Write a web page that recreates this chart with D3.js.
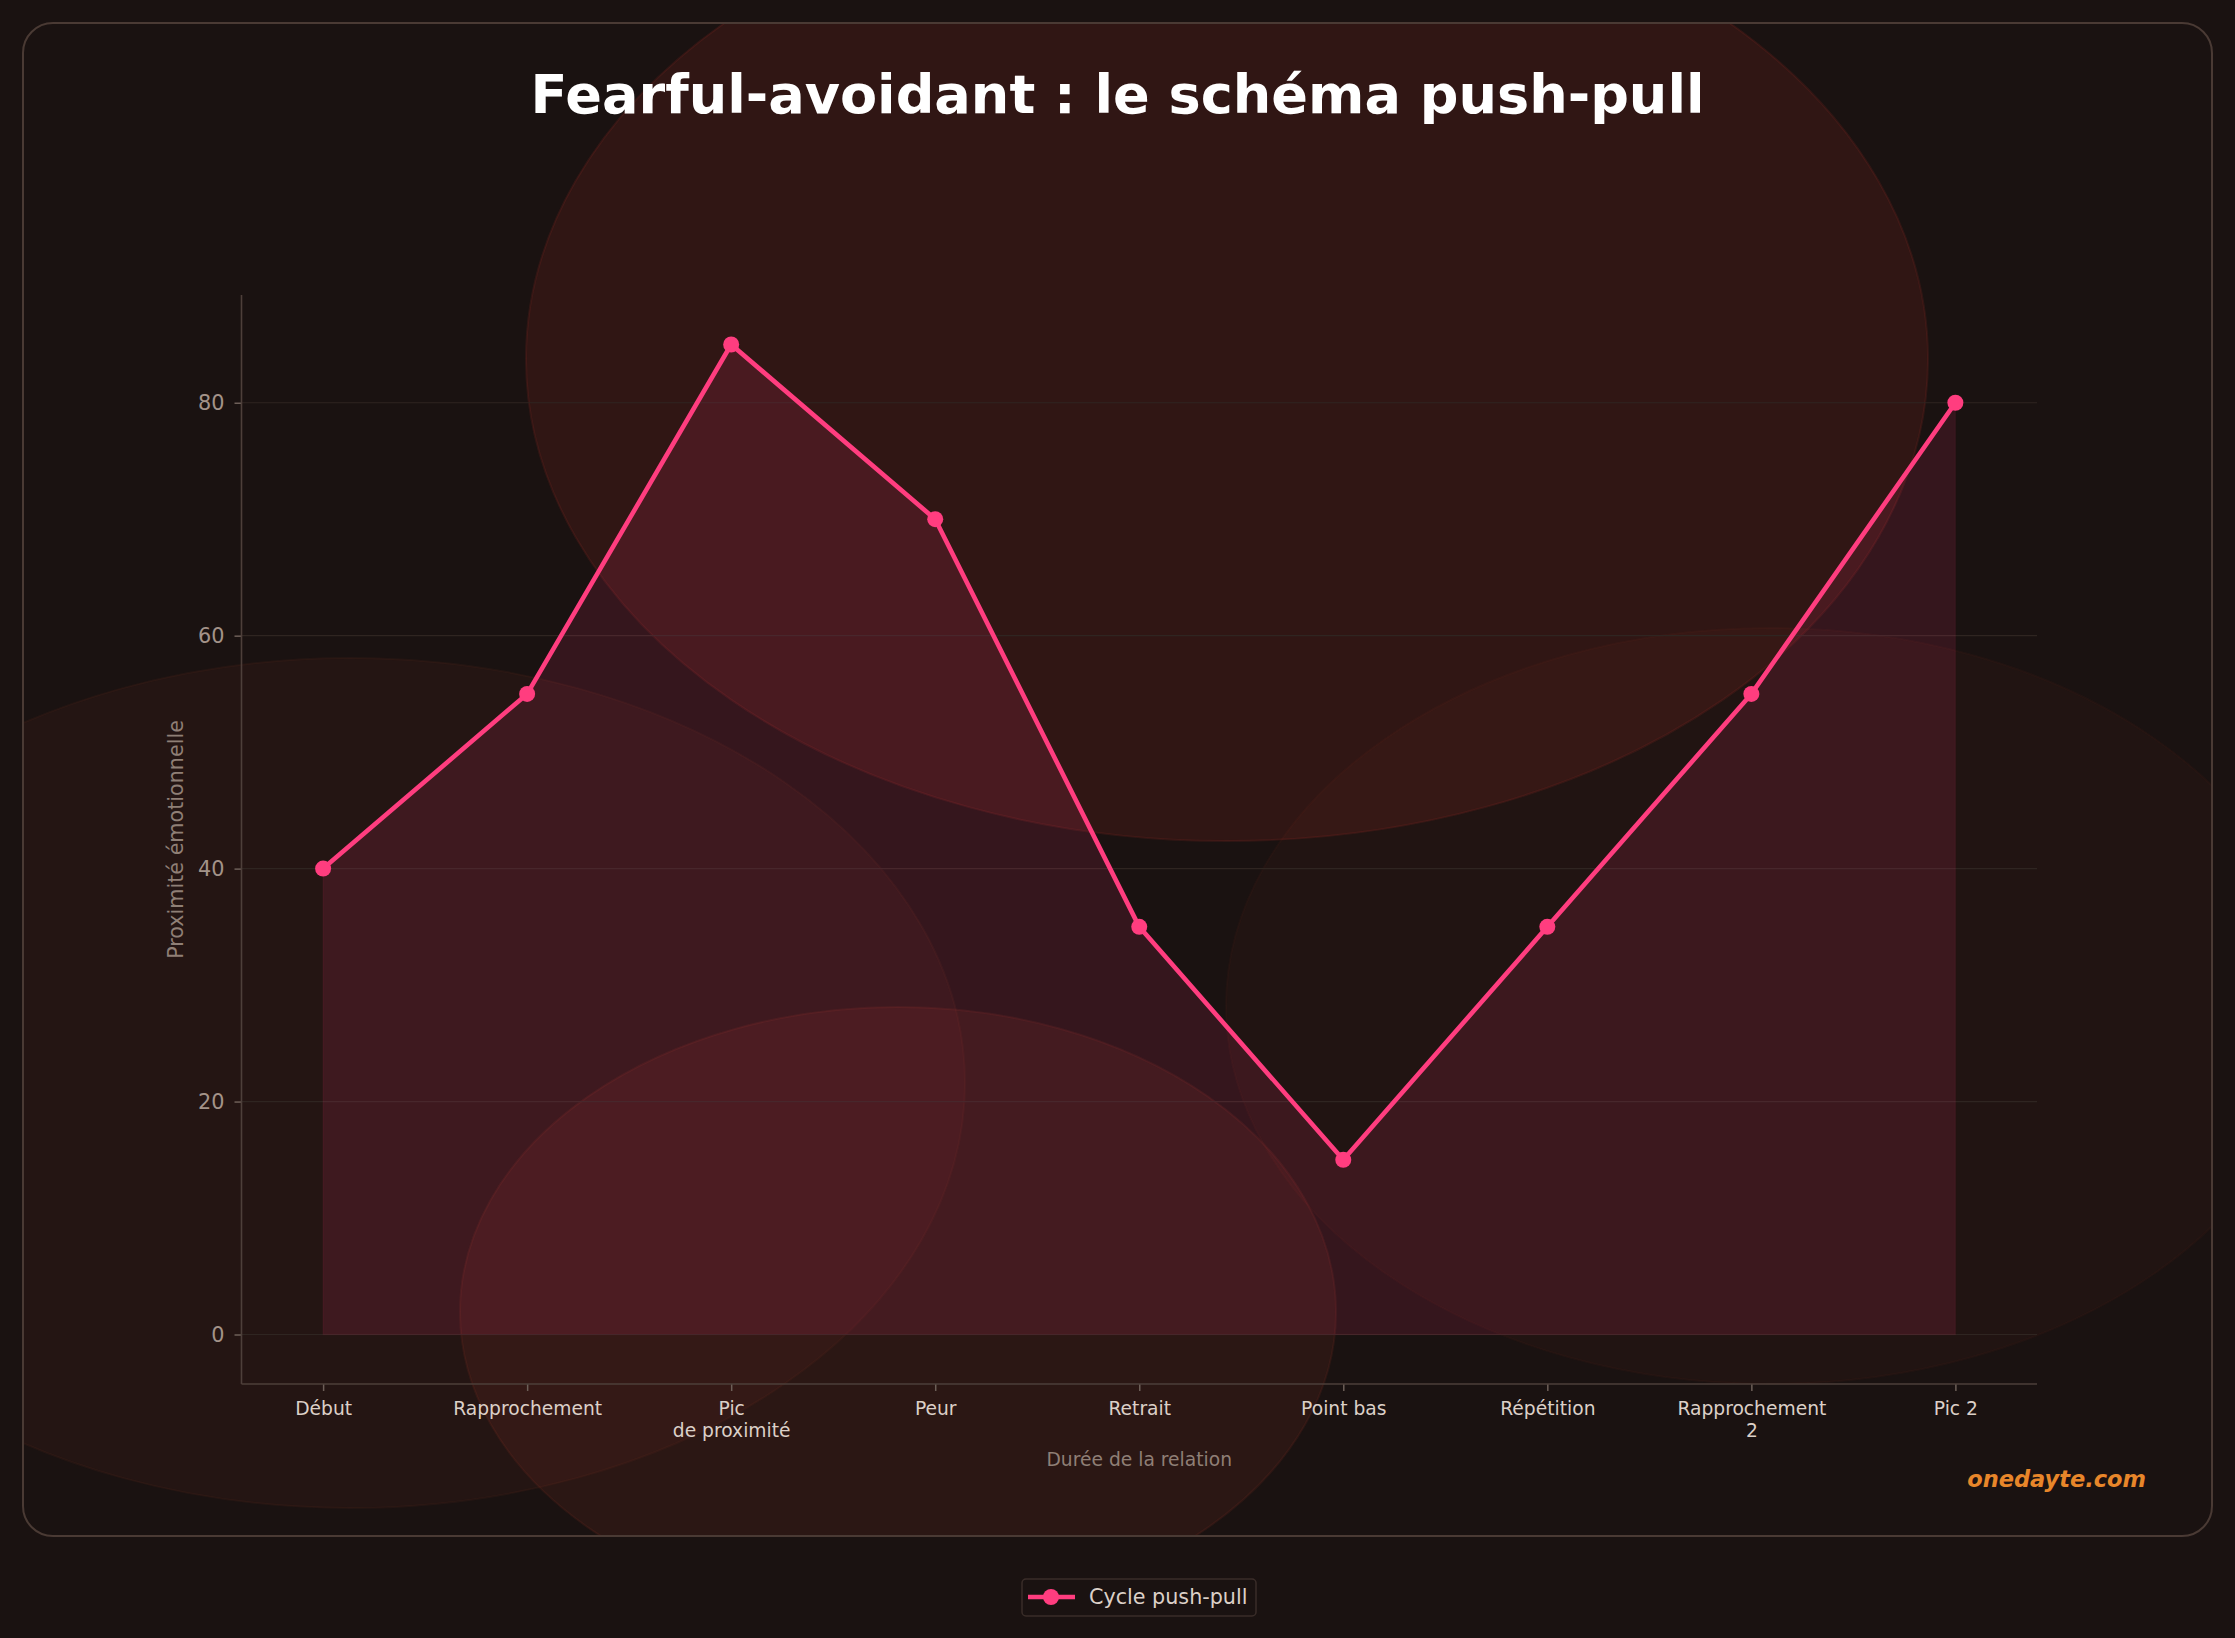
<!DOCTYPE html>
<html>
<head>
<meta charset="utf-8">
<script src="https://cdn.jsdelivr.net/npm/d3@7"></script>
<style>
  html, body { margin: 0; padding: 0; background: #1a1211; }
  svg { display: block; }
  text { font-family: "DejaVu Sans", sans-serif; }
</style>
</head>
<body>
<svg id="chart" width="2235" height="1638"></svg>
<script>
// ---------- data ----------
const categories = ["Début", "Rapprochement", "Pic\nde proximité", "Peur", "Retrait", "Point bas", "Répétition", "Rapprochement\n2", "Pic 2"];
const values = [40, 55, 85, 70, 35, 15, 35, 55, 80];
const yTicks = [0, 20, 40, 60, 80];
const seriesName = "Cycle push-pull";
const titleText = "Fearful-avoidant : le schéma push-pull";
const xLabelText = "Durée de la relation";
const yLabelText = "Proximité émotionnelle";
const watermarkText = "onedayte.com";

// ---------- decoration (background blobs, figure pixels) ----------
const blobs = [
  { cx: 1227, cy: 359, rx: 701, ry: 482, color: "#c8382e", alpha: 0.13 },
  { cx: 350, cy: 1083, rx: 615, ry: 425, color: "#c8553a", alpha: 0.06 },
  { cx: 898, cy: 1312, rx: 438, ry: 305, color: "#c8452e", alpha: 0.10 },
  { cx: 1770, cy: 1006, rx: 544, ry: 378, color: "#c8452e", alpha: 0.045 }
];

const W = 2235, H = 1638;
const svg = d3.select("#chart");
const bg = "#1a1211";
const pink = "#ff3d7f";

svg.append("rect").attr("width", W).attr("height", H).attr("fill", bg);

// card
const card = { x: 23, y: 23, w: 2189, h: 1513, r: 30 };
const defs = svg.append("defs");
defs.append("clipPath").attr("id", "cardClip")
  .append("rect").attr("x", card.x).attr("y", card.y).attr("width", card.w).attr("height", card.h).attr("rx", card.r);

svg.append("rect").attr("x", card.x).attr("y", card.y).attr("width", card.w).attr("height", card.h)
  .attr("rx", card.r).attr("fill", bg);

const blobG = svg.append("g").attr("clip-path", "url(#cardClip)");
blobG.selectAll("ellipse").data(blobs).join("ellipse")
  .attr("cx", d => d.cx).attr("cy", d => d.cy).attr("rx", d => d.rx).attr("ry", d => d.ry)
  .attr("fill", d => d.color).attr("fill-opacity", d => d.alpha)
  .attr("stroke", d => d.color).attr("stroke-opacity", d => d.alpha).attr("stroke-width", 2);

svg.append("rect").attr("x", card.x).attr("y", card.y).attr("width", card.w).attr("height", card.h)
  .attr("rx", card.r).attr("fill", "none").attr("stroke", "#4a3a34").attr("stroke-width", 2);

// ---------- scales ----------
const plot = { left: 241.5, right: 2037, top: 295, bottom: 1384 };
const n = values.length;
const xPad = (n - 1) * 0.05;
const x = d3.scaleLinear().domain([-xPad, n - 1 + xPad]).range([plot.left, plot.right]);
const yMax = d3.max(values), yPad = yMax * 0.05;
const y = d3.scaleLinear().domain([-yPad, yMax + yPad]).range([plot.bottom, plot.top]);

// grid
svg.append("g").selectAll("line").data(yTicks).join("line")
  .attr("x1", plot.left).attr("x2", plot.right)
  .attr("y1", d => y(d)).attr("y2", d => y(d))
  .attr("stroke", "#2f2521").attr("stroke-width", 1.2);

// fill area
const area = d3.area().x((d, i) => x(i)).y0(y(0)).y1(d => y(d));
svg.append("path").datum(values).attr("d", area)
  .attr("fill", pink).attr("fill-opacity", 0.12)
  .attr("stroke", pink).attr("stroke-opacity", 0.06).attr("stroke-width", 1.5);

// line
const line = d3.line().x((d, i) => x(i)).y(d => y(d));
svg.append("path").datum(values).attr("d", line)
  .attr("fill", "none").attr("stroke", pink).attr("stroke-width", 4.6)
  .attr("stroke-linejoin", "round");
svg.append("g").selectAll("circle").data(values).join("circle")
  .attr("cx", (d, i) => x(i)).attr("cy", d => y(d)).attr("r", 8).attr("fill", pink);

// ---------- axes ----------
const yAxis = d3.axisLeft(y).tickValues(yTicks).tickSize(7).tickPadding(10);
const yG = svg.append("g").attr("transform", `translate(${plot.left},0)`).call(yAxis);
yG.select(".domain").remove();
yG.selectAll(".tick line").attr("stroke", "#6d5f58").attr("stroke-width", 1.5);
yG.selectAll(".tick text").attr("fill", "#a39389").attr("font-size", 20.8)
  .attr("font-family", "DejaVu Sans");

const xAxis = d3.axisBottom(x).tickValues(d3.range(n)).tickSize(7).tickFormat("");
const xG = svg.append("g").attr("transform", `translate(0,${plot.bottom})`).call(xAxis);
xG.select(".domain").remove();
xG.selectAll(".tick line").attr("stroke", "#6d5f58").attr("stroke-width", 1.5);
xG.selectAll(".tick").each(function(d) {
  const lines = categories[d].split("\n");
  const t = d3.select(this).append("text")
    .attr("fill", "#dcd0c8").attr("font-size", 18.7).attr("text-anchor", "middle")
    .attr("font-family", "DejaVu Sans");
  lines.forEach((l, k) => t.append("tspan").attr("x", 0).attr("y", 31 + k * 22).text(l));
});

// spines
svg.append("line").attr("x1", plot.left).attr("x2", plot.left).attr("y1", plot.top).attr("y2", plot.bottom)
  .attr("stroke", "#4d3f3a").attr("stroke-width", 1.6);
svg.append("line").attr("x1", plot.left).attr("x2", plot.right).attr("y1", plot.bottom).attr("y2", plot.bottom)
  .attr("stroke", "#4d3f3a").attr("stroke-width", 1.6);

// axis labels
svg.append("text").attr("x", (plot.left + plot.right) / 2).attr("y", 1466)
  .attr("text-anchor", "middle").attr("fill", "#8f7f76").attr("font-size", 18.7).text(xLabelText);
svg.append("text").attr("transform", `translate(183,${(plot.top + plot.bottom) / 2}) rotate(-90)`)
  .attr("text-anchor", "middle").attr("fill", "#8f7f76").attr("font-size", 20.7).text(yLabelText);

// title
svg.append("text").attr("x", W / 2).attr("y", 113).attr("text-anchor", "middle")
  .attr("fill", "#ffffff").attr("font-weight", "bold").attr("font-size", 54.1).text(titleText);

// watermark
svg.append("text").attr("x", 2146).attr("y", 1487).attr("text-anchor", "end")
  .attr("fill", "#e8862a").attr("font-weight", "bold").attr("font-style", "italic")
  .attr("font-size", 22.5).text(watermarkText);

// legend
const lg = svg.append("g");
lg.append("rect").attr("x", 1022).attr("y", 1579).attr("width", 234).attr("height", 37).attr("rx", 4)
  .attr("fill", bg).attr("stroke", "#3a2d29").attr("stroke-width", 1.5);
lg.append("line").attr("x1", 1028).attr("x2", 1075).attr("y1", 1597).attr("y2", 1597)
  .attr("stroke", pink).attr("stroke-width", 4.6);
lg.append("circle").attr("cx", 1051).attr("cy", 1597).attr("r", 8).attr("fill", pink);
lg.append("text").attr("x", 1089).attr("y", 1604).attr("fill", "#dcd0c8").attr("font-size", 20.7).text(seriesName);
</script>
</body>
</html>
